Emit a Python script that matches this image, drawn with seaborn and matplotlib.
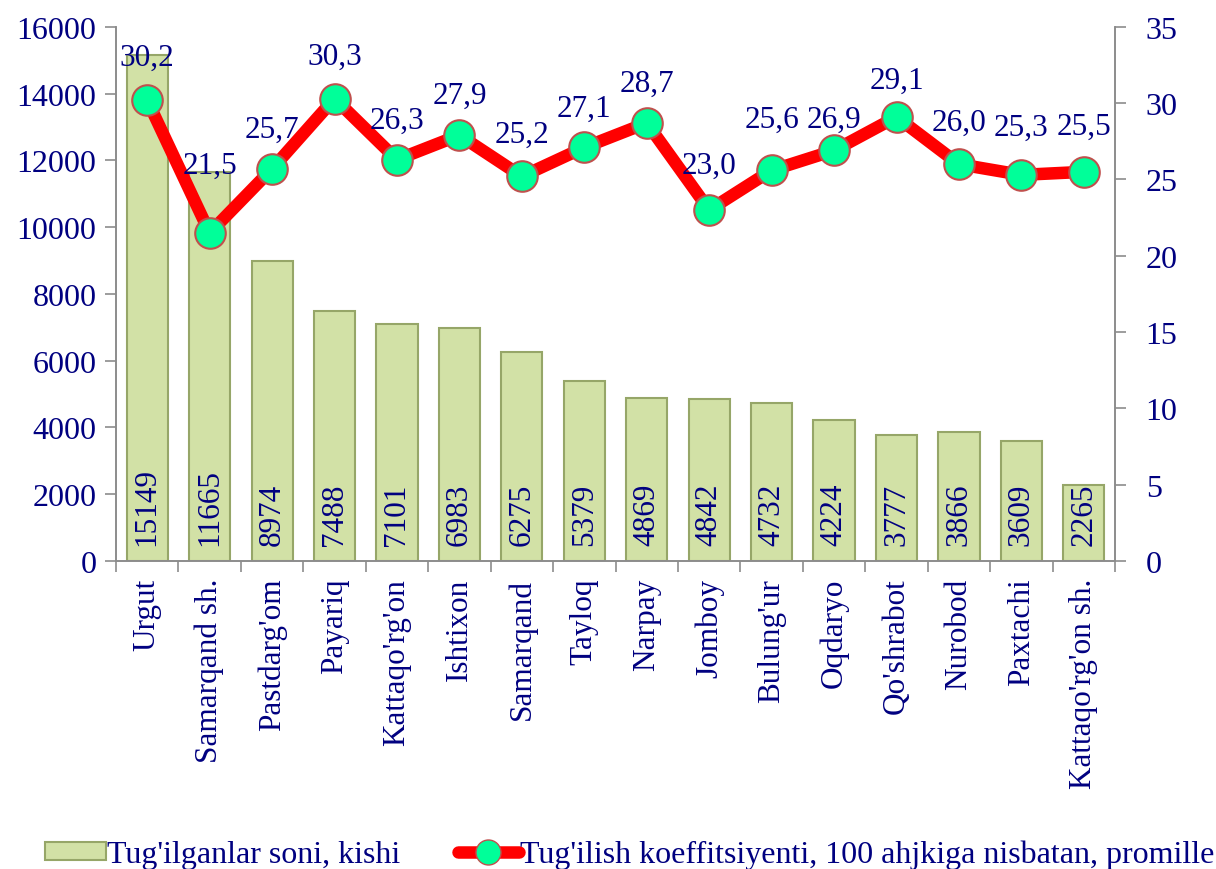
import numpy as np
import pandas as pd
import matplotlib
matplotlib.use('Agg')
import matplotlib.pyplot as plt
import seaborn as sns
from matplotlib.patches import Patch
from matplotlib.lines import Line2D

districts = ["Urgut", "Samarqand sh.", "Pastdarg'om", "Payariq", "Kattaqo'rg'on",
             "Ishtixon", "Samarqand", "Tayloq", "Narpay", "Jomboy", "Bulung'ur",
             "Oqdaryo", "Qo'shrabot", "Nurobod", "Paxtachi", "Kattaqo'rg'on sh."]
births = [15149, 11665, 8974, 7488, 7101, 6983, 6275, 5379, 4869, 4842, 4732,
          4224, 3777, 3866, 3609, 2265]
rates = [30.2, 21.5, 25.7, 30.3, 26.3, 27.9, 25.2, 27.1, 28.7, 23.0, 25.6,
         26.9, 29.1, 26.0, 25.3, 25.5]

bar_label = "Tug'ilganlar soni, kishi"
line_label = "Tug'ilish koeffitsiyenti, 100 ahjkiga nisbatan, promille"

# vertical offsets (points) of the rate labels above the markers
rate_label_offsets = [20, 38, 18, 20, 18, 18, 20, 18, 18, 22, 26, 12, 16, 20, 24, 22]

NAVY = '#000080'
sns.set_style('white')
plt.rcParams['font.family'] = ['Liberation Serif', 'DejaVu Serif']

df = pd.DataFrame({'district': districts, 'births': births, 'rate': rates})

fig = plt.figure(figsize=(12.16, 8.7), dpi=100)
ax = fig.add_axes([0.0954, 0.354, 0.8216, 0.614])

sns.barplot(data=df, x='district', y='births', ax=ax, color='#d2e1a6',
            saturation=1, width=0.66, edgecolor='#96a668', linewidth=1.5)
ax.set_ylim(0, 16000)
ax.set_xlim(-0.5, len(districts) - 0.5)
ax.set_yticks(np.arange(0, 16001, 2000))
ax.set_xlabel('')
ax.set_ylabel('')

for i, v in enumerate(births):
    ax.text(i, 480, str(v), rotation=90, ha='center', va='bottom',
            fontsize=22.5, color=NAVY)

ax2 = ax.twinx()
x = np.arange(len(rates))
sns.lineplot(x=x, y=rates, ax=ax2, color='#ff0000', linewidth=9,
             marker='o', markersize=22, markerfacecolor='#00ff99',
             markeredgecolor='#c0504d', markeredgewidth=1.5)
ax2.set_ylim(0, 35)
ax2.set_yticks(np.arange(0, 36, 5))
for i, v in enumerate(rates):
    ax2.annotate(f"{v:.1f}".replace('.', ','), (i, v), xytext=(0, rate_label_offsets[i]),
                 textcoords='offset points', ha='center', va='bottom',
                 fontsize=22.5, color=NAVY)

for a in (ax, ax2):
    for s in a.spines.values():
        s.set_color('#8c8c8c')
        s.set_linewidth(1.2)
    a.spines['top'].set_visible(False)
    a.tick_params(axis='y', labelsize=23, labelcolor=NAVY, length=8,
                  width=1.2, color='#8c8c8c', direction='out')

ax.tick_params(axis='y', left=True, pad=6)
ax2.tick_params(axis='y', right=True, pad=14)

# category labels between boundary ticks
ax.set_xticks(x)
ax.set_xticklabels(districts, rotation=90, fontsize=22.5, color=NAVY)
ax.tick_params(axis='x', which='major', length=0, pad=12)
ax.set_xticks(np.arange(-0.5, len(districts), 1), minor=True)
ax.tick_params(axis='x', which='minor', length=8, width=1.2, color='#8c8c8c',
               direction='out', bottom=True)

handles = [
    Patch(facecolor='#d2e1a6', edgecolor='#96a668', linewidth=1.5),
    Line2D([0], [0], color='#ff0000', linewidth=9, marker='o', markersize=18,
           markerfacecolor='#00ff99', markeredgecolor='#c0504d'),
]
leg = fig.legend(handles, [bar_label, line_label], loc='lower center',
                 bbox_to_anchor=(0.518, -0.022), ncol=2, frameon=False,
                 fontsize=23, handlelength=1.9, handleheight=0.5,
                 handletextpad=0.05, columnspacing=1.8, borderaxespad=0.2)
for t in leg.get_texts():
    t.set_color(NAVY)

fig.savefig('out.png', dpi=100)
